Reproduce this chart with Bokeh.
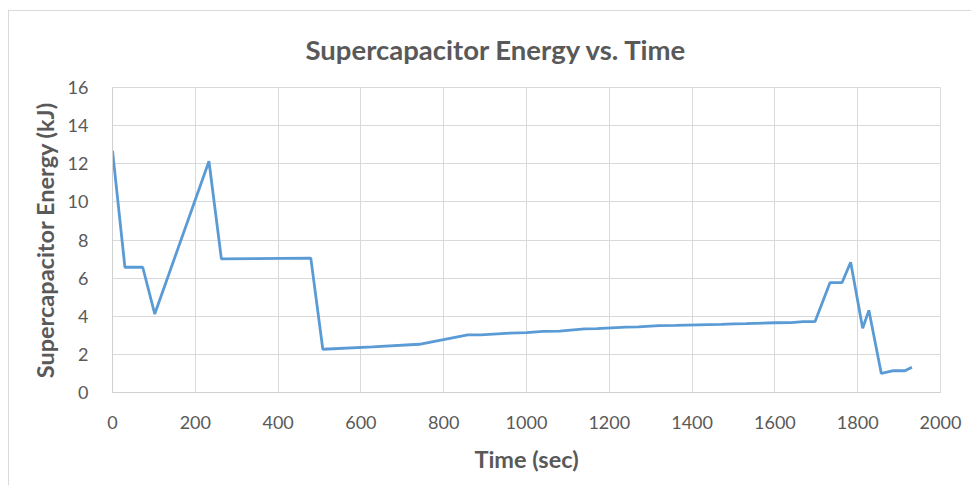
from bokeh.plotting import figure
from bokeh.models import Range1d, FixedTicker, Title
from bokeh.embed import file_html
from bokeh.resources import INLINE

time_sec = [0, 30, 73, 102, 233, 263, 479, 508, 628, 741, 858, 890, 960, 1000,
            1040, 1080, 1140, 1170, 1240, 1270, 1320, 1360, 1440, 1470, 1500,
            1530, 1600, 1640, 1668, 1697, 1733, 1762, 1783, 1812, 1827, 1857,
            1884, 1914, 1931]
energy_kj = [12.69, 6.57, 6.57, 4.12, 12.13, 7.01, 7.05, 2.27, 2.39, 2.53, 3.02,
             3.02, 3.12, 3.14, 3.21, 3.22, 3.34, 3.35, 3.43, 3.44, 3.51, 3.52,
             3.56, 3.57, 3.60, 3.61, 3.66, 3.67, 3.72, 3.72, 5.76, 5.76, 6.83,
             3.37, 4.31, 1.00, 1.14, 1.14, 1.33]
x_ticks = [0, 200, 400, 600, 800, 1000, 1200, 1400, 1600, 1800, 2000]
y_ticks = [0, 2, 4, 6, 8, 10, 12, 14, 16]

FONT = "Lato"
GRAY = "#595959"
GRID = "#d9d9d9"

p = figure(width=963, height=475, output_backend="svg", toolbar_location=None,
           x_range=Range1d(0, 2000), y_range=Range1d(0, 16),
           min_border_left=103, min_border_right=32, min_border_top=76,
           min_border_bottom=94)
p.margin = (10, 0, 0, 8)
p.styles = {"border-left": "1px solid #d9d9d9", "border-top": "1px solid #d9d9d9"}

t = Title(text="Supercapacitor Energy vs. Time", align="left",
          text_font=FONT, text_font_size="27.5px", text_font_style="bold",
          text_color=GRAY, offset=193, standoff=40, vertical_align="top")
p.add_layout(t, "above")

p.line(time_sec, energy_kj, line_color="#5b9bd5", line_width=2.8)

p.xaxis.ticker = FixedTicker(ticks=x_ticks)
p.yaxis.ticker = FixedTicker(ticks=y_ticks)
for ax in (p.xaxis[0], p.yaxis[0]):
    ax.major_tick_line_color = None
    ax.minor_tick_line_color = None
    ax.axis_line_color = "#d0d0d0"
    ax.major_label_text_font = FONT
    ax.major_label_text_font_size = "18px"
    ax.major_label_text_color = GRAY
    ax.axis_label_text_font = FONT
    ax.axis_label_text_font_size = "23.5px"
    ax.axis_label_text_font_style = "bold"
    ax.axis_label_text_color = GRAY

p.xaxis.axis_label = "Time (sec)"
p.yaxis.axis_label = "Supercapacitor Energy (kJ)"
p.xaxis.major_label_standoff = 17
p.yaxis.major_label_standoff = 18
p.xaxis.axis_label_standoff = 13
p.yaxis.axis_label_standoff = 6

p.xgrid.grid_line_color = GRID
p.ygrid.grid_line_color = GRID
p.outline_line_color = GRID
p.background_fill_color = "white"
p.border_fill_color = "white"

open("out.html", "w").write(file_html(p, INLINE))
